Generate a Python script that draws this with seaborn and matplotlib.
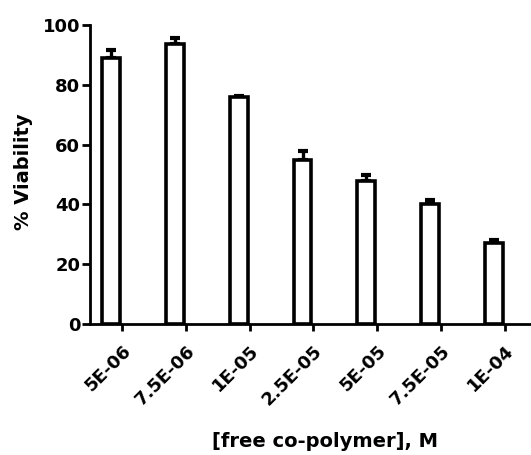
import matplotlib
matplotlib.use("Agg")
import matplotlib.pyplot as plt
import seaborn as sns
import numpy as np
import pandas as pd

# Cell viability vs. free co-polymer concentration (mean + upper SEM)
concentrations = ["5E-06", "7.5E-06", "1E-05", "2.5E-05", "5E-05", "7.5E-05", "1E-04"]
viability = [89.0, 93.8, 75.8, 55.0, 47.8, 40.3, 27.2]
sem = [2.8, 2.0, 0.6, 3.0, 1.9, 1.1, 0.8]

sns.set_theme(style="ticks")
plt.rcParams["font.family"] = ["DejaVu Sans"]
plt.rcParams["font.weight"] = "bold"
plt.rcParams["text.color"] = "black"
plt.rcParams["axes.labelcolor"] = "black"
plt.rcParams["xtick.color"] = "black"
plt.rcParams["ytick.color"] = "black"

df = pd.DataFrame({"conc": concentrations, "viability": viability})

fig = plt.figure(figsize=(5.31, 4.55), dpi=100)
ax = fig.add_axes([90 / 531, 131 / 455, 1 - 90 / 531, 299 / 455])

sns.barplot(data=df, x="conc", y="viability", order=concentrations,
            color="white", edgecolor="black", linewidth=2.6, width=0.28,
            errorbar=None, ax=ax, zorder=3)

pos = np.arange(len(concentrations))
ax.errorbar(pos, viability, yerr=[np.zeros(len(sem)), sem], fmt="none",
            ecolor="black", elinewidth=2.4, capsize=3.5, capthick=3, zorder=2)

ax.set_ylim(0, 100)
ax.set_xlim(-0.33, 6.58)
ax.set_yticks([0, 20, 40, 60, 80, 100])

# Category ticks sit just to the right of each bar
ax.set_xticks(pos + 0.17)
ax.set_xticklabels(concentrations, rotation=45, ha="right", rotation_mode="anchor",
                   fontsize=13, fontweight="bold")
ax.tick_params(axis="x", length=5, width=2, pad=8, color="black", labelcolor="black")
ax.tick_params(axis="y", length=6, width=2, pad=1, labelsize=13, color="black",
               labelcolor="black")
for lab in ax.get_yticklabels():
    lab.set_fontweight("bold")

for side in ("top", "right"):
    ax.spines[side].set_visible(False)
for side in ("left", "bottom"):
    ax.spines[side].set_linewidth(2)
    ax.spines[side].set_color("black")

ax.set_ylabel("% Viability", fontsize=14, fontweight="bold", color="black")
ax.yaxis.set_label_coords(-0.13, 0.508)
ax.set_xlabel("[free co-polymer], M", fontsize=14, fontweight="bold", color="black")
ax.xaxis.set_label_coords(0.533, -0.36)

fig.savefig("out.png", dpi=100)
